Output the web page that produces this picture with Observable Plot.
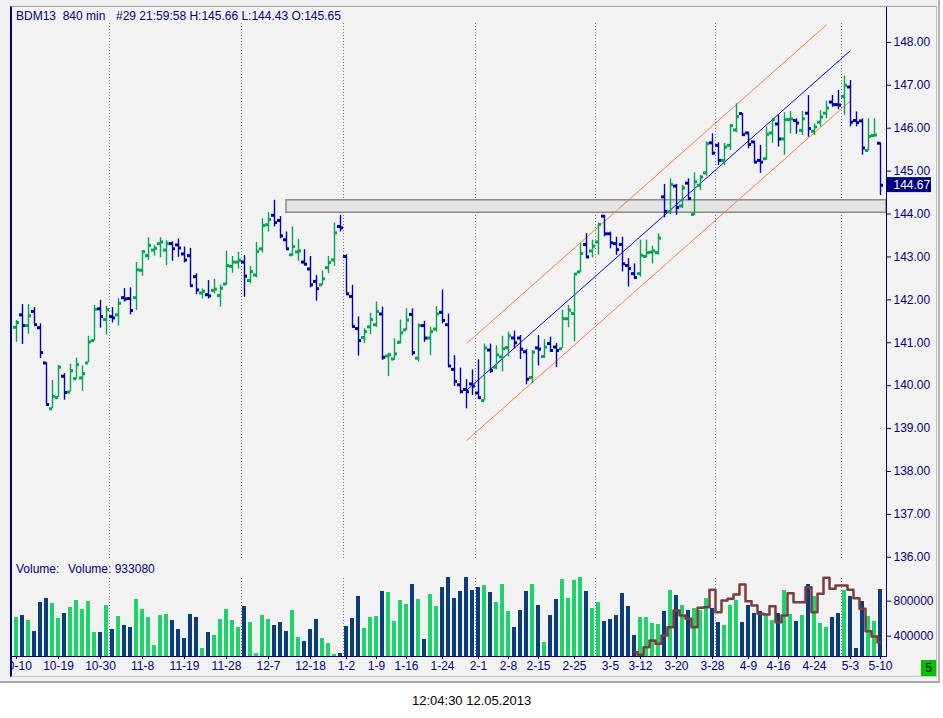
<!DOCTYPE html>
<html>
<head>
<meta charset="utf-8">
<script src="https://cdn.jsdelivr.net/npm/d3@7"></script>
<script src="https://cdn.jsdelivr.net/npm/@observablehq/plot@0.6"></script>
<style>
html,body{margin:0;padding:0;background:#ffffff;}
#root{position:relative;width:943px;height:718px;overflow:hidden;background:#ffffff;font-family:"Liberation Sans",Arial,sans-serif;}
#win{position:absolute;left:0;top:0;width:938px;height:681px;background:#f0f0f0;border-right:2px solid #b4b4b4;border-bottom:2px solid #a8a8a8;}
#frame{position:absolute;left:10px;top:6px;width:927px;height:671px;background:#f2f2f2;border-top:1px solid #a0a0a0;border-left:2px solid #000080;border-right:1px solid #c0c0c0;border-bottom:1px solid #c8c8c8;box-sizing:border-box;}
.line{position:absolute;background:#000080;}
.lbl{position:absolute;font-size:12px;color:#000080;white-space:pre;line-height:14px;font-family:"Liberation Sans",Arial,sans-serif;}
.chart{position:absolute;left:10px;}
#five{position:absolute;left:921px;top:660px;width:15px;height:16px;background:#00c000;color:#000;font-size:12px;text-align:center;line-height:16px;font-family:"Liberation Sans",Arial,sans-serif;}
#clock{position:absolute;left:412px;top:693px;font-size:13px;color:#000;white-space:pre;font-family:"Liberation Sans",Arial,sans-serif;}
</style>
</head>
<body>
<div id="root">
  <div id="win"></div>
  <div id="frame"></div>
</div>
<script>
// ---------- DATA ----------
const symbol = "BDM13";
const period = "840 min";
const barInfo = "#29 21:59:58";
const clockText = "12:04:30 12.05.2013";

const opens = [141.36,141.65,141.40,141.73,141.35,140.53,139.46,139.72,140.22,139.85,
140.16,140.18,140.53,141.05,141.79,141.54,141.61,141.65,142.05,142.03,
142.05,142.69,143.03,143.16,143.31,143.16,143.31,143.28,143.07,143.03,
142.54,142.16,142.12,142.22,142.10,142.37,142.78,142.88,142.88,142.45,
142.58,143.19,143.75,143.97,143.85,143.40,143.05,143.12,142.88,142.72,
142.43,142.35,142.75,142.93,143.71,143.01,142.08,141.33,141.12,141.37,
141.42,141.67,140.69,140.62,141.01,141.30,141.66,140.64,141.40,141.11,
141.32,141.71,141.42,140.38,140.02,139.91,140.04,139.83,139.65,140.83,
140.43,140.67,140.89,141.11,141.11,140.79,140.19,140.88,140.68,140.98,
140.90,140.86,141.56,141.68,142.65,143.29,143.14,143.35,143.95,143.54,
143.31,143.29,142.80,142.61,142.61,143.01,143.11,143.10,144.40,144.05,
144.65,144.19,144.72,143.99,144.67,144.96,145.66,145.60,145.25,145.60,
145.96,146.34,145.89,145.68,145.25,145.29,145.89,146.10,145.75,146.20,
146.18,145.95,146.35,145.93,146.14,146.35,146.61,146.55,146.74,146.96,
146.18,146.17,145.48,145.83,145.65];

const highs = [141.52,141.89,141.89,141.82,141.44,140.53,140.12,140.47,140.28,140.50,
140.64,140.46,141.15,141.87,141.99,141.85,141.82,142.03,142.26,142.28,
142.87,143.15,143.45,143.27,143.45,143.38,143.35,143.42,143.23,143.20,
142.61,142.25,142.45,142.48,142.34,143.13,143.01,143.11,143.03,142.78,
143.34,143.89,144.03,144.32,143.94,143.58,143.70,143.41,143.17,143.01,
142.57,142.67,143.01,143.79,143.97,143.05,142.34,141.60,141.33,141.69,
141.95,141.83,140.76,141.09,141.53,141.79,141.79,141.44,141.50,141.36,
141.84,142.23,141.67,140.70,140.41,140.14,140.37,140.60,140.97,140.97,
140.93,141.15,141.25,141.27,141.17,140.84,140.82,141.17,141.07,141.13,
140.98,141.76,141.87,142.61,143.31,143.54,143.39,143.79,143.97,143.58,
143.46,143.46,142.96,142.84,143.39,143.39,143.25,143.54,144.69,144.82,
144.69,144.67,144.82,144.96,144.90,145.68,145.87,145.66,145.64,146.07,
146.57,146.34,145.91,145.70,145.60,146.03,146.22,146.30,146.36,146.39,
146.22,146.39,146.76,146.10,146.41,146.63,146.76,146.88,147.21,147.11,
146.38,146.22,146.22,146.22,145.66];

const lows = [141.01,140.96,141.20,141.42,140.63,139.56,139.46,139.72,139.66,139.85,
140.14,139.87,140.53,141.04,141.34,141.18,141.46,141.39,141.95,141.65,
141.75,142.55,142.92,143.02,142.98,142.80,142.90,142.99,142.86,142.31,
142.12,142.02,142.02,142.14,141.83,142.34,142.62,142.72,142.06,142.37,
142.51,143.09,143.58,143.70,143.42,143.17,143.01,142.90,142.80,142.28,
141.97,142.34,142.61,142.78,143.58,142.14,141.36,140.69,140.98,141.19,
141.36,140.59,140.21,140.59,140.97,141.28,140.69,140.55,141.01,140.70,
141.25,141.44,140.45,139.98,139.81,139.46,139.77,139.68,139.64,140.29,
140.37,140.32,140.67,140.86,140.61,140.02,140.05,140.46,140.63,140.78,
140.42,140.86,141.35,141.02,142.63,142.98,142.98,143.04,143.47,143.19,
143.04,142.65,142.30,142.49,142.53,142.98,142.84,143.04,143.91,143.99,
143.97,144.13,144.32,143.97,144.55,144.88,145.37,145.13,145.13,145.48,
145.89,145.81,145.52,145.19,144.95,145.25,145.65,145.56,145.37,145.87,
145.86,145.83,145.79,145.83,146.03,146.22,146.49,146.43,146.30,146.03,
146.03,145.37,145.47,145.81,144.43];

const closes = [141.47,141.40,141.63,141.42,140.77,139.56,139.75,140.43,139.84,140.35,
140.49,140.28,141.02,141.78,141.61,141.77,141.58,141.92,142.02,141.75,
142.70,143.12,143.27,143.20,143.35,143.31,143.19,143.21,142.93,142.33,
142.23,142.20,142.09,142.25,142.27,142.80,142.88,142.92,142.55,142.66,
143.13,143.73,143.87,143.80,143.49,143.19,143.24,143.14,142.83,142.35,
142.26,142.49,142.87,143.56,143.68,142.14,141.38,141.05,141.26,141.54,
141.73,140.66,140.72,140.74,141.23,141.53,140.77,141.40,141.11,141.26,
141.67,141.52,140.46,140.10,139.86,139.86,139.99,139.72,140.88,140.35,
140.72,140.86,141.16,141.00,140.85,140.15,140.78,140.85,140.90,140.82,
140.82,141.56,141.76,142.60,143.08,143.00,143.25,143.76,143.54,143.33,
143.17,142.84,142.73,142.52,143.04,143.10,143.14,143.44,144.06,144.69,
144.15,144.61,144.36,144.75,144.86,145.64,145.42,145.25,145.56,146.06,
146.27,145.85,145.62,145.21,145.21,145.86,146.20,145.75,146.20,146.22,
146.12,146.22,145.99,146.03,146.26,146.47,146.55,146.54,147.00,146.14,
146.13,145.54,145.81,145.84,144.67];

// volume in thousands
const volumesK = [614,636,579,453,785,831,773,602,659,728,
808,705,796,442,442,751,476,625,522,499,
819,705,614,293,636,648,579,476,373,648,
614,259,442,408,591,705,579,499,739,556,
202,636,591,522,556,453,694,385,339,476,
591,373,316,191,202,511,602,854,488,614,
625,911,899,568,808,762,991,819,362,876,
739,956,1071,831,911,1071,922,956,979,899,
785,991,682,499,694,911,991,751,328,636,
819,1048,831,1036,1071,911,716,785,568,591,
636,888,739,408,614,614,545,533,682,922,
865,751,694,716,694,831,716,556,522,751,
808,556,751,659,682,636,579,659,922,648,
568,636,991,854,545,499,614,659,922,854,
259,796,625,568,933.08];

// brown step line in the volume panel (thousands), starting at bar 103
const maStart = 103;
const maK = [217,187,274,351,313,408,503,694,636,598,
503,724,732,930,674,808,827,876,991,800,
751,655,648,743,560,636,892,789,789,960,
674,884,1067,941,979,979,930,834,713,457,
396,328];

// date axis
const dateTickIdx = [0,7,14,21,28,35,42,49,55,60,65,71,77,82,87,93,99,104,110,116,122,127,133,139,144];
const dateTickLabels = ["10-10","10-19","10-30","11-8","11-19","11-28","12-7","12-18","1-2","1-9","1-16","1-24","2-1","2-8","2-15","2-25","3-5","3-12","3-20","3-28","4-9","4-16","4-24","5-3","5-10"];
// month separators (between bars)
const monthSep = [15.5,37.5,54.5,76.5,96.5,116.5,137.5];

// price axis ticks
const priceTicks = [136,137,138,139,140,141,142,143,144,145,146,147,148];
const volTicks = [400000,800000];

// regression channel (bar index, price)
const chName  = ["upper","middle","lower"];
const chStartIdx = [75,75,75];
const chEndIdx   = [135,139,139];
const chStartP   = [140.98,139.89,138.72];
const chEndP     = [148.41,147.81,146.64];

// horizontal zone
const zoneStartIdx = 45;
const zoneLow = 144.03;
const zoneHigh = 144.32;

// ---------- SCALES / STYLE ----------
const N = opens.length;
const X_DOMAIN = [-1, N];
const PRICE_DOMAIN = [135.925, 148.79];
const VOL_DOMAIN = [167720, 1265000];

const UP = "#00a651", DOWN = "#0000b4", VUP = "#1fd36b", VDOWN = "#0b3c7c", NAVY = "#000080";
const ORANGE = "#ff7a3c", BLUE = "#0000ff", BROWN = "#7d3c3c";
const FONT = '"Liberation Sans", Arial, sans-serif';

const bars = opens.map((o, i) => ({i, o, h: highs[i], l: lows[i], c: closes[i], v: volumesK[i] * 1000, up: closes[i] >= o}));
const channels = chName.map((n, k) => ({n, i0: chStartIdx[k], i1: chEndIdx[k], p0: chStartP[k], p1: chEndP[k]}));
const zone = [{x1: zoneStartIdx, x2: N, y1: zoneLow, y2: zoneHigh}];
const maData = maK.map((v, k) => ({i: maStart + k, v: v * 1000}));
const labelMap = new Map(dateTickIdx.map((d, k) => [d, dateTickLabels[k]]));
const f2 = d3.format(".2f");
const last = bars[N - 1];

const root = document.getElementById("root");
const baseStyle = {background: "transparent", overflow: "hidden", fontFamily: FONT, fontSize: "12px", color: NAVY};

// ---------- PRICE PANEL ----------
const price = Plot.plot({
  width: 930, height: 552,
  marginLeft: 0, marginRight: 54, marginTop: 0, marginBottom: 0,
  x: {type: "linear", domain: X_DOMAIN, axis: null, label: null},
  y: {type: "linear", domain: PRICE_DOMAIN, axis: null, label: null},
  style: {...baseStyle, overflow: "visible"},
  marks: [
    Plot.ruleX(monthSep, {x: d => d, stroke: "#7a7a7a", strokeDasharray: "1,2", insetTop: 15}),
    Plot.rect(zone, {x1: "x1", x2: "x2", y1: "y1", y2: "y2", fill: "#e4e4e4", stroke: "#8a8a8a", strokeWidth: 1.5}),
    Plot.link(channels, {filter: d => d.n !== "middle", x1: "i0", y1: "p0", x2: "i1", y2: "p1", stroke: ORANGE, strokeWidth: 1}),
    Plot.link(channels, {filter: d => d.n === "middle", x1: "i0", y1: "p0", x2: "i1", y2: "p1", stroke: BLUE, strokeWidth: 1}),
    // up bars
    Plot.ruleX(bars, {filter: d => d.up, x: "i", y1: "l", y2: "h", stroke: UP, strokeWidth: 1.4}),
    Plot.ruleY(bars, {filter: d => d.up, y: "o", x1: d => d.i - 0.5, x2: d => d.i, stroke: UP, strokeWidth: 3}),
    Plot.ruleY(bars, {filter: d => d.up, y: "c", x1: d => d.i, x2: d => d.i + 0.5, stroke: UP, strokeWidth: 3}),
    // down bars
    Plot.ruleX(bars, {filter: d => !d.up, x: "i", y1: "l", y2: "h", stroke: DOWN, strokeWidth: 1.4}),
    Plot.ruleY(bars, {filter: d => !d.up, y: "o", x1: d => d.i - 0.5, x2: d => d.i, stroke: DOWN, strokeWidth: 3}),
    Plot.ruleY(bars, {filter: d => !d.up, y: "c", x1: d => d.i, x2: d => d.i + 0.5, stroke: DOWN, strokeWidth: 3}),
    Plot.axisY({anchor: "right", ticks: priceTicks, tickFormat: f2, tickSize: 4, tickPadding: 3, color: NAVY, fontSize: 12}),
    Plot.text([last], {y: "c", frameAnchor: "right", dx: 7, textAnchor: "start", text: d => f2(d.c), fill: "white", fontSize: 12})
  ]
});
price.classList.add("chart");
price.style.top = "8px";
root.appendChild(price);

// navy box behind the last-price label
(function () {
  const texts = price.querySelectorAll('g[aria-label="text"] text');
  const t = texts[texts.length - 1];
  if (!t) return;
  const sb = price.getBoundingClientRect();
  const tb = t.getBoundingClientRect();
  const r = document.createElementNS("http://www.w3.org/2000/svg", "rect");
  r.setAttribute("x", 877);
  r.setAttribute("y", tb.top - sb.top - 1);
  r.setAttribute("width", 44);
  r.setAttribute("height", tb.height + 1);
  r.setAttribute("fill", NAVY);
  const g = t.closest("g");
  g.parentNode.insertBefore(r, g);
})();

// ---------- VOLUME PANEL ----------
const vol = Plot.plot({
  width: 930, height: 123,
  marginLeft: 0, marginRight: 54, marginTop: 0, marginBottom: 27,
  x: {type: "linear", domain: X_DOMAIN, axis: null, label: null},
  y: {type: "linear", domain: VOL_DOMAIN, axis: null, label: null},
  style: baseStyle,
  marks: [
    Plot.ruleX(monthSep, {x: d => d, stroke: "#7a7a7a", strokeDasharray: "1,2", insetTop: 18}),
    Plot.rect(bars, {filter: d => d.up, x1: d => d.i - 1/3, x2: d => d.i + 1/3, y1: () => VOL_DOMAIN[0], y2: "v", fill: VUP}),
    Plot.rect(bars, {filter: d => !d.up, x1: d => d.i - 1/3, x2: d => d.i + 1/3, y1: () => VOL_DOMAIN[0], y2: "v", fill: VDOWN}),
    Plot.line(maData, {x: "i", y: "v", curve: "step", stroke: BROWN, strokeWidth: 2.5}),
    Plot.axisY({anchor: "right", ticks: volTicks, tickFormat: d3.format("d"), tickSize: 4, tickPadding: 3, color: NAVY, fontSize: 12}),
    Plot.axisX({anchor: "bottom", ticks: dateTickIdx, tickFormat: d => labelMap.get(d), tickSize: 3, tickPadding: 2, color: NAVY, fontSize: 12})
  ]
});
vol.classList.add("chart");
vol.style.top = "560px";
root.appendChild(vol);

// ---------- frame lines, texts ----------
function addDiv(cls, css, text) {
  const d = document.createElement("div");
  if (cls) d.className = cls;
  Object.assign(d.style, css);
  if (text != null) d.textContent = text;
  root.appendChild(d);
  return d;
}
addDiv("line", {left: "886px", top: "7px", width: "1px", height: "650px"});
addDiv("line", {left: "10px", top: "656px", width: "877px", height: "1px"});

addDiv("lbl", {left: "16px", top: "9px"}, symbol + "  " + period);
addDiv("lbl", {left: "116px", top: "9px"}, `${barInfo} H:${f2(last.h)} L:${f2(last.l)} O:${f2(last.o)}`);
addDiv("lbl", {left: "16px", top: "562px"}, "Volume:");
addDiv("lbl", {left: "68px", top: "562px"}, "Volume: " + d3.format("d")(last.v));

const five = addDiv(null, {}, "5"); five.id = "five";
const clock = addDiv(null, {}, clockText); clock.id = "clock";
</script>
</body>
</html>
